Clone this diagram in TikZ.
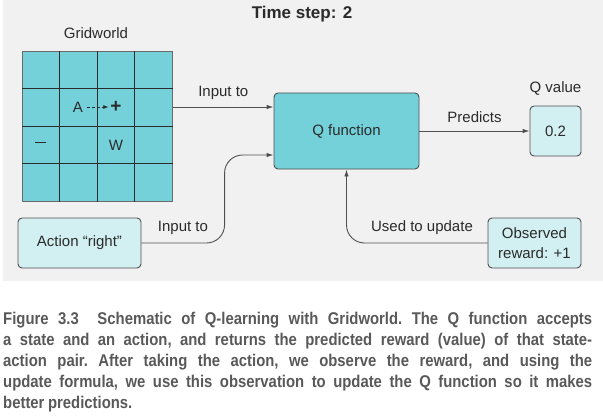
\documentclass[tikz,border=0pt]{standalone}
\usepackage{fontspec}
\setmainfont{Liberation Sans}
\newfontfamily\capfont[FakeStretch=0.875,WordSpace=0.85]{Liberation Sans}
\usetikzlibrary{arrows.meta}
\definecolor{bggray}{HTML}{F1F1F1}
\definecolor{qteal}{HTML}{74D0D9}
\definecolor{qpale}{HTML}{D2EFF1}
\definecolor{qline}{HTML}{505050}
\definecolor{qtext}{HTML}{2B2B2B}
\definecolor{captext}{HTML}{595959}
\tikzset{
  box/.style={draw=qline,line width=0.9pt,rounded corners=4pt,text=qtext,align=center},
  qbox/.style={box,fill=qteal},
  pbox/.style={box,fill=qpale},
  arr/.style={draw=qline,line width=0.9pt,-{Latex[length=7pt,width=4.5pt]}},
  lbl/.style={text=qtext}
}
\begin{document}
\begin{tikzpicture}[x=1pt,y=-1pt,font=\fontsize{15}{20}\selectfont]
\useasboundingbox (0,0) rectangle (603,420);
\fill[bggray] (3,0) rectangle (603,281);
\node[lbl,font=\fontsize{17}{20}\selectfont\bfseries] (title) at (302,14) {Time step: 2};
% gridworld
\node[lbl] (gwlabel) at (96,33) {Gridworld};
\node[fill=qteal,draw=qline!85,line width=1pt,minimum size=150pt,inner sep=0pt,anchor=north west] (grid) at (22,51) {};
\foreach \k in {1,2,3}{
  \draw[qtext,line width=1pt] ([xshift=37.5*\k pt]grid.north west) -- ([xshift=37.5*\k pt]grid.south west);
  \draw[qtext,line width=1pt] ([yshift=-37.5*\k pt]grid.north west) -- ([yshift=-37.5*\k pt]grid.north east);
}
\node[lbl] (agent) at (78,107) {A};
\node[lbl,font=\fontsize{19}{20}\selectfont\bfseries,inner sep=2pt] (goal) at (116,107) {+};
\node[lbl] (pit) at (40.5,145) {\rule[4.5pt]{11pt}{1.4pt}};
\node[lbl] (wall) at (116,145) {W};
\draw[qtext,line width=0.6pt,densely dashed,-{Latex[length=5pt,width=4pt]}] (agent.east) -- (goal.west);
% boxes
\node[qbox,minimum width=145pt,minimum height=76pt] (qfun) at (346.5,131) {Q function};
\node[pbox,minimum width=51pt,minimum height=50pt] (qval) at (555.5,131) {0.2};
\node[lbl] (qvallabel) at (555.5,88) {Q value};
\node[pbox,minimum width=123pt,minimum height=50pt] (action) at (79.5,243) {Action “right”};
\node[pbox,minimum width=93pt,minimum height=50pt,inner sep=2pt] (obs) at (534.5,243) {Observed\\reward: +1};
% connectors
\coordinate (qin1) at ([yshift=24pt]qfun.west);
\coordinate (qin2) at ([yshift=-24pt]qfun.west);
\draw[arr] (grid.east |- qin1) -- node[lbl,above=4pt] (inlabel1) {Input to} (qin1);
\draw[arr,rounded corners=18pt] (action.east) -| ([xshift=-49pt]qin2) -- (qin2);
\node[lbl] (inlabel2) at (183,228) {Input to};
\draw[arr] (qfun.east) -- node[lbl,above=5pt] (predlabel) {Predicts} (qval.west);
\draw[arr,rounded corners=18pt] (obs.west) -| (qfun.south);
\node[lbl] (updlabel) at (422,228) {Used to update};
% caption
\node[anchor=north west,inner sep=0pt,text width=589pt,align=justify,text=captext,
  font=\capfont\bfseries\fontsize{17}{21}\selectfont\frenchspacing] (caption) at (3,312)
  {Figure 3.3\hspace{1.1em}Schematic of Q-learning with Gridworld. The Q function accepts\linebreak
   a state and an action, and returns the predicted reward (value) of that state-\linebreak
   action pair. After taking the action, we observe the reward, and using the\linebreak
   update formula, we use this observation to update the Q function so it makes\linebreak
   better predictions.};
\end{tikzpicture}
\end{document}
